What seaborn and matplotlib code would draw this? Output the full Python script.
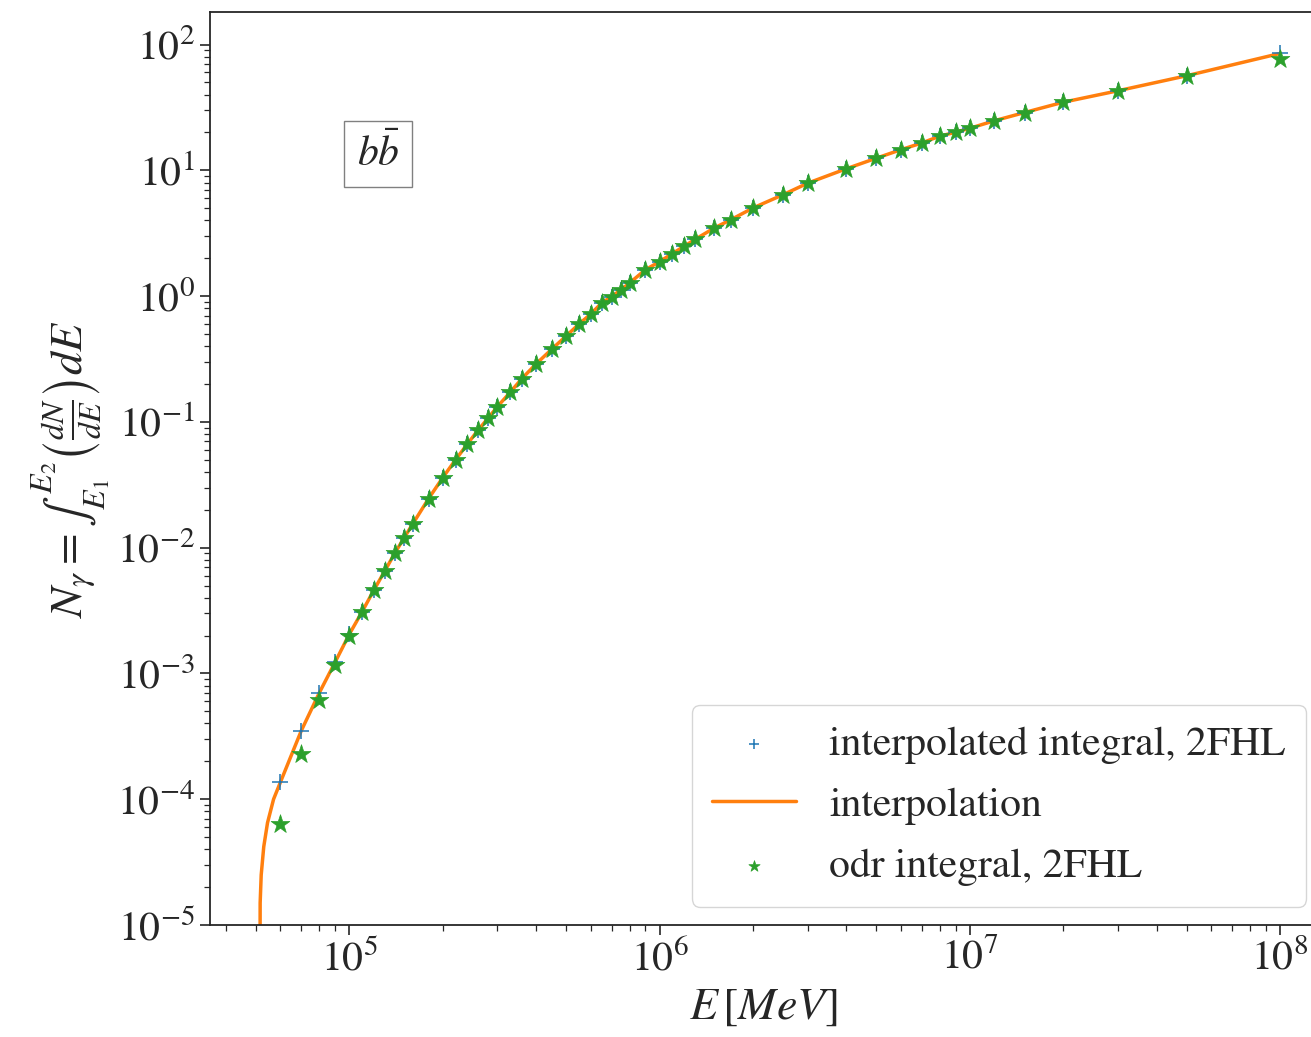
import numpy as np
import pandas as pd
import seaborn as sns
import matplotlib.pyplot as plt

# energies [MeV] of the integration points
energy = [6e4, 7e4, 8e4, 9e4, 1e5, 1.1e5, 1.2e5, 1.3e5, 1.4e5, 1.5e5, 1.6e5,
          1.8e5, 2e5, 2.2e5, 2.4e5, 2.6e5, 2.8e5, 3e5, 3.3e5, 3.6e5, 4e5,
          4.5e5, 5e5, 5.5e5, 6e5, 6.5e5, 7e5, 7.5e5, 8e5, 9e5, 1e6, 1.1e6,
          1.2e6, 1.3e6, 1.5e6, 1.7e6, 2e6, 2.5e6, 3e6, 4e6, 5e6, 6e6, 7e6,
          8e6, 9e6, 1e7, 1.2e7, 1.5e7, 2e7, 3e7, 5e7, 1e8]

# odr integral (stars)
n_odr = [6.4e-5, 2.27e-4, 6.1e-4, 1.17e-3, 2.0e-3, 3.1e-3, 4.6e-3, 6.5e-3,
         9.0e-3, 1.19e-2, 1.54e-2, 2.45e-2, 3.6e-2, 5.0e-2, 6.65e-2, 8.6e-2,
         0.107, 0.132, 0.172, 0.221, 0.289, 0.38, 0.482, 0.60, 0.72, 0.88,
         0.99, 1.12, 1.27, 1.62, 1.88, 2.18, 2.49, 2.82, 3.48, 4.06, 5.02,
         6.4, 7.9, 10.3, 12.5, 14.6, 16.5, 18.7, 20.1, 21.6, 24.8, 28.8,
         34.8, 42.9, 56.5, 77.0]

# interpolated integral (plus markers)
n_interp = [1.37e-4, 3.5e-4, 7.0e-4, 1.23e-3, 2.05e-3, 3.1e-3, 4.6e-3, 6.5e-3,
            9.0e-3, 1.19e-2, 1.54e-2, 2.45e-2, 3.6e-2, 5.0e-2, 6.65e-2, 8.6e-2,
            0.107, 0.132, 0.172, 0.221, 0.289, 0.38, 0.482, 0.60, 0.72, 0.88,
            0.99, 1.12, 1.27, 1.62, 1.88, 2.18, 2.49, 2.82, 3.48, 4.06, 5.02,
            6.4, 7.9, 10.3, 12.5, 14.6, 16.5, 18.7, 20.1, 21.6, 24.8, 28.8,
            34.8, 42.9, 56.5, 85.0]

# interpolation curve, including the threshold part below the first point
line_e = [5.15e4, 5.16e4, 5.2e4, 5.3e4, 5.45e4, 5.7e4] + energy
line_n = [1e-6, 1.5e-5, 2.5e-5, 4.2e-5, 6.5e-5, 1.0e-4] + n_interp

sns.set_style("ticks")
plt.rcParams['font.family'] = ['STIXGeneral', 'DejaVu Serif']
plt.rcParams['mathtext.fontset'] = 'stix'
plt.rcParams['xtick.direction'] = 'out'
plt.rcParams['ytick.direction'] = 'out'

pal = sns.color_palette("tab10")

fig = plt.figure(figsize=(13.11, 10.37), dpi=100)
ax = fig.add_axes([0.160, 0.108, 0.845, 0.880])

pts = pd.DataFrame({"E": energy, "odr": n_odr, "interp": n_interp})
curve = pd.DataFrame({"E": line_e, "N": line_n})

sns.scatterplot(data=pts, x="E", y="interp", marker="+", s=130, color=pal[0],
                linewidth=1.1, label="interpolated integral, 2FHL", ax=ax, zorder=3)
sns.lineplot(data=curve, x="E", y="N", color=pal[1], linewidth=2.5, sort=False,
             estimator=None, label="interpolation", ax=ax, zorder=2)
sns.scatterplot(data=pts, x="E", y="odr", marker="*", s=200, color=pal[2],
                edgecolor=pal[2], linewidth=0.5, label="odr integral, 2FHL",
                ax=ax, zorder=4)

ax.set_xscale("log")
ax.set_yscale("log")
ax.set_xlim(3.55e4, 1.32e8)
ax.set_ylim(1e-5, 180)

ax.tick_params(axis='both', which='major', labelsize=30, length=7, width=1.2)
ax.tick_params(axis='both', which='minor', length=4, width=0.9)
for s in ax.spines.values():
    s.set_linewidth(1.3)

ax.set_xlabel(r"$E\,[MeV]$", fontsize=33, labelpad=6)
ax.set_ylabel(r"$N_\gamma = \int_{E_1}^{E_2}\left(\frac{dN}{dE}\right)dE$",
              fontsize=33, labelpad=4)

ax.text(0.152, 0.845, r"$b\bar{b}$", transform=ax.transAxes, fontsize=30,
        ha='center', va='center',
        bbox=dict(boxstyle='square,pad=0.3', facecolor='white', edgecolor='gray'))

ax.legend(loc='lower right', fontsize=30, framealpha=0.8, borderpad=0.5,
          handletextpad=0.8, labelspacing=0.55, markerscale=0.6,
          borderaxespad=0.0, bbox_to_anchor=(0.99, 0.02))

plt.savefig("out.png", dpi=100)
